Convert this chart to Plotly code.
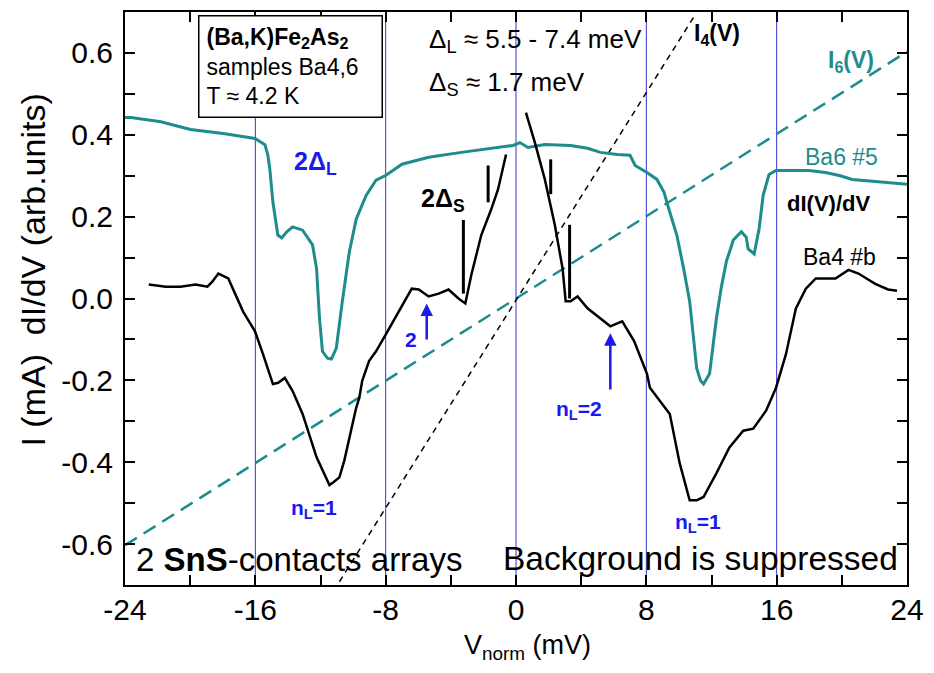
import plotly.graph_objects as go

# ---------------- data ----------------
# Ba6 #5 dI/dV (teal)
ba6_v = [-24.0, -23.63, -21.8, -19.98, -17.97, -16.02, -15.41, -15.23, -15.11, -14.92, -14.62, -14.38,
         -14.07, -13.71, -13.10, -12.49, -12.24, -12.06, -11.88, -11.57, -11.33, -11.03, -10.66, -10.23,
         -9.81, -9.20, -8.59, -7.98, -7.0, -5.36, -3.35, -1.28, -0.18, 0.24, 0.73, 1.77, 3.35, 4.39,
         5.18, 6.21, 7.0, 7.31, 8.04, 8.65, 9.08, 9.44, 9.87, 10.29, 10.66, 11.09, 11.33, 11.51, 11.88,
         12.30, 12.61, 12.91, 13.34, 13.83, 14.13, 14.25, 14.62, 14.92, 15.17, 15.53, 15.96, 17.18,
         17.97, 19.0, 19.9, 20.65, 22.05, 24.0]
ba6_g = [0.442, 0.442, 0.432, 0.413, 0.403, 0.391, 0.376, 0.350, 0.316, 0.235, 0.155, 0.148,
         0.163, 0.175, 0.167, 0.131, 0.073, -0.049, -0.129, -0.146, -0.148, -0.121, -0.007, 0.114,
         0.194, 0.252, 0.289, 0.301, 0.328, 0.345, 0.357, 0.369, 0.374, 0.381, 0.369, 0.376, 0.374, 0.367,
         0.357, 0.352, 0.350, 0.325, 0.308, 0.291, 0.260, 0.211, 0.155, 0.073, -0.007, -0.170, -0.201, -0.209, -0.184,
         -0.049, 0.029, 0.090, 0.143, 0.163, 0.150, 0.121, 0.109, 0.170, 0.252, 0.303, 0.313, 0.313,
         0.313, 0.308, 0.300, 0.291, 0.286, 0.279]

# Ba4 #b dI/dV (black), two branches
ba4_left_v = [-22.54, -21.5, -20.59, -19.67, -18.94, -18.64, -18.27, -17.97, -17.66, -16.75, -16.02, -15.53,
              -14.92, -14.6, -14.19, -13.71, -13.10, -12.24, -11.76, -11.45, -11.21, -10.84, -10.54, -10.23,
              -9.81, -9.62, -9.44, -9.02, -8.59, -7.98, -7.19, -6.40, -5.97, -5.36, -4.75, -4.14, -3.53,
              -3.11, -2.74, -2.13, -1.52, -1.10, -0.61]
ba4_left_g = [0.034, 0.029, 0.029, 0.034, 0.029, 0.041, 0.061, 0.056, 0.049, -0.032, -0.080, -0.136,
              -0.209, -0.206, -0.194, -0.226, -0.282, -0.388, -0.432, -0.456, -0.449, -0.437, -0.396, -0.340,
              -0.267, -0.243, -0.201, -0.153, -0.129, -0.087, -0.032, 0.024, 0.022, 0.005, 0.012, 0.022, 0.0,
              -0.012, 0.058, 0.155, 0.218, 0.267, 0.352]
ba4_right_v = [0.61, 1.16, 1.77, 2.38, 2.86, 3.05, 3.35, 3.78, 4.39, 5.0, 5.42, 5.79, 6.52, 7.25, 8.04,
               8.22, 9.44, 10.05, 10.66, 11.09, 11.51, 12.30, 13.10, 13.95, 14.56, 15.35, 15.96, 16.57,
               17.18, 17.79, 18.40, 19.61, 20.41, 21.02, 22.05, 22.84, 23.39]
ba4_right_g = [0.454, 0.381, 0.291, 0.180, 0.073, -0.007, -0.007, 0.005, -0.024, -0.044, -0.056, -0.068,
               -0.056, -0.104, -0.184, -0.218, -0.282, -0.403, -0.493, -0.493, -0.485, -0.427, -0.364,
               -0.323, -0.318, -0.274, -0.218, -0.136, -0.024, 0.024, 0.049, 0.049, 0.070, 0.061, 0.036,
               0.022, 0.019]

# I(V) curves (dashed), endpoints
i4_v = [-10.84, 10.90]
i4_i = [-0.692, 0.687]
i6_v = [-24.0, 24.0]
i6_i = [-0.603, 0.603]

# 2Δs gap markers (short vertical bars)
gap_v = [-3.23, -1.71, 2.13, 3.29]
gap_lo = [0.012, 0.235, 0.255, 0.0]
gap_hi = [0.192, 0.325, 0.340, 0.180]

# vertical guide lines (2ΔL positions)
guide_v = [-16, -8, 0, 8, 16]

# arrows (n_L = 2 features): V, head, tail
arrow_v = [-5.48, 5.79]
arrow_head = [-0.012, -0.085]
arrow_tail = [-0.104, -0.226]

x_ticks = [-24, -20, -16, -12, -8, -4, 0, 4, 8, 12, 16, 20, 24]
x_labels = ["-24", "", "-16", "", "-8", "", "0", "", "8", "", "16", "", "24"]
y_ticks = [-0.6, -0.5, -0.4, -0.3, -0.2, -0.1, 0.0, 0.1, 0.2, 0.3, 0.4, 0.5, 0.6]
y_labels = ["-0.6", "", "-0.4", "", "-0.2", "", "0.0", "", "0.2", "", "0.4", "", "0.6"]

TEAL = "#1e8c8c"
BLUE = "#1a1aee"
GUIDE = "#3535cc"
FONT = "Liberation Sans, Arial, sans-serif"

fig = go.Figure()

# guide lines
gx, gy = [], []
for v in guide_v:
    gx += [v, v, None]
    gy += [-0.7, 0.7, None]
fig.add_trace(go.Scatter(x=gx, y=gy, mode="lines", line=dict(color=GUIDE, width=1), hoverinfo="skip"))

fig.add_trace(go.Scatter(x=i6_v, y=i6_i, mode="lines", line=dict(color=TEAL, width=2.5, dash="14px,8px")))
fig.add_trace(go.Scatter(x=i4_v, y=i4_i, mode="lines", line=dict(color="black", width=1.5, dash="6px,5px")))
fig.add_trace(go.Scatter(x=ba6_v, y=ba6_g, mode="lines", line=dict(color=TEAL, width=3)))
fig.add_trace(go.Scatter(x=ba4_left_v, y=ba4_left_g, mode="lines", line=dict(color="black", width=2.5)))
fig.add_trace(go.Scatter(x=ba4_right_v, y=ba4_right_g, mode="lines", line=dict(color="black", width=2.5)))

mx, my = [], []
for v, lo, hi in zip(gap_v, gap_lo, gap_hi):
    mx += [v, v, None]
    my += [lo, hi, None]
fig.add_trace(go.Scatter(x=mx, y=my, mode="lines", line=dict(color="black", width=3)))

ann = []
def txt(x, y, text, size, color="black", xanchor="center", yanchor="middle", **kw):
    d = dict(x=x, y=y, xref="x", yref="y", text=text, showarrow=False,
             font=dict(family=FONT, size=size, color=color), xanchor=xanchor, yanchor=yanchor)
    d.update(kw)
    ann.append(d)

txt(-19.55, 0.692, "<b>(Ba,K)Fe<sub>2</sub>As<sub>2</sub></b><br>samples Ba4,6<br>T ≈ 4.2 K", 23,
    xanchor="left", yanchor="top", align="left", bordercolor="black", borderwidth=1.5,
    borderpad=7, bgcolor="white", width=168, height=86, valign="middle")
txt(-5.48, 0.630, "Δ<sub>L</sub> ≈ 5.5 - 7.4 meV", 26, xanchor="left")
txt(-5.48, 0.525, "Δ<sub>S</sub> ≈ 1.7 meV", 26, xanchor="left")
txt(10.78, 0.645, "<b>I<sub>4</sub>(V)</b>", 23, xanchor="left")
txt(19.0, 0.578, "<b>I<sub>6</sub>(V)</b>", 23, color=TEAL, xanchor="left")
txt(19.98, 0.345, "Ba6 #5", 23, color=TEAL)
txt(19.16, 0.231, "<b>dI(V)/dV</b>", 22)
txt(19.86, 0.102, "Ba4 #b", 23)
txt(-12.3, 0.330, "<b>2Δ<sub>L</sub></b>", 25, color=BLUE)
txt(-4.5, 0.240, "<b>2Δ<sub>S</sub></b>", 25)
txt(-12.37, -0.515, "<b>n<sub>L</sub>=1</b>", 21, color=BLUE)
txt(11.2, -0.548, "<b>n<sub>L</sub>=1</b>", 21, color=BLUE)
txt(3.84, -0.272, "<b>n<sub>L</sub>=2</b>", 21, color=BLUE)
txt(-6.45, -0.100, "<b>2</b>", 21, color=BLUE)
txt(-23.45, -0.638, "2 <b>SnS</b>-contacts arrays", 33, xanchor="left")
txt(23.55, -0.636, "Background is suppressed", 33.5, xanchor="right")

for v, h, t in zip(arrow_v, arrow_head, arrow_tail):
    ann.append(dict(x=v, y=h, ax=v, ay=t, xref="x", yref="y", axref="x", ayref="y", text="",
                    showarrow=True, arrowhead=2, arrowsize=1, arrowwidth=2.5, arrowcolor=BLUE))

# axis titles
ann.append(dict(x=0.515, y=-0.108, xref="paper", yref="paper", showarrow=False,
                text="V<sub>norm</sub> (mV)", font=dict(family=FONT, size=27, color="black"),
                xanchor="center", yanchor="middle"))
ann.append(dict(x=-0.118, y=0.55, xref="paper", yref="paper", showarrow=False, textangle=-90,
                text="I (mA)  dI/dV (arb.units)", font=dict(family=FONT, size=34, color="black"),
                xanchor="center", yanchor="middle"))

fig.update_layout(
    width=934, height=673,
    margin=dict(l=125, r=21, t=10, b=88),
    paper_bgcolor="white", plot_bgcolor="white",
    showlegend=False,
    annotations=ann,
    font=dict(family=FONT, color="black"),
)
fig.update_xaxes(range=[-24, 24], tickvals=x_ticks, ticktext=x_labels, ticks="inside", ticklen=10,
                 tickwidth=1.5, tickcolor="black", showline=True, linecolor="black", linewidth=2,
                 mirror="ticks", showgrid=False, zeroline=False,
                 tickfont=dict(family=FONT, size=30, color="black"), ticklabelstandoff=-3)
fig.update_yaxes(range=[-0.7, 0.7], tickvals=y_ticks, ticktext=y_labels, ticks="inside", ticklen=10,
                 tickwidth=1.5, tickcolor="black", showline=True, linecolor="black", linewidth=2,
                 mirror="ticks", showgrid=False, zeroline=False,
                 tickfont=dict(family=FONT, size=30, color="black"), ticklabelstandoff=4)

fig.write_html("out.html")
